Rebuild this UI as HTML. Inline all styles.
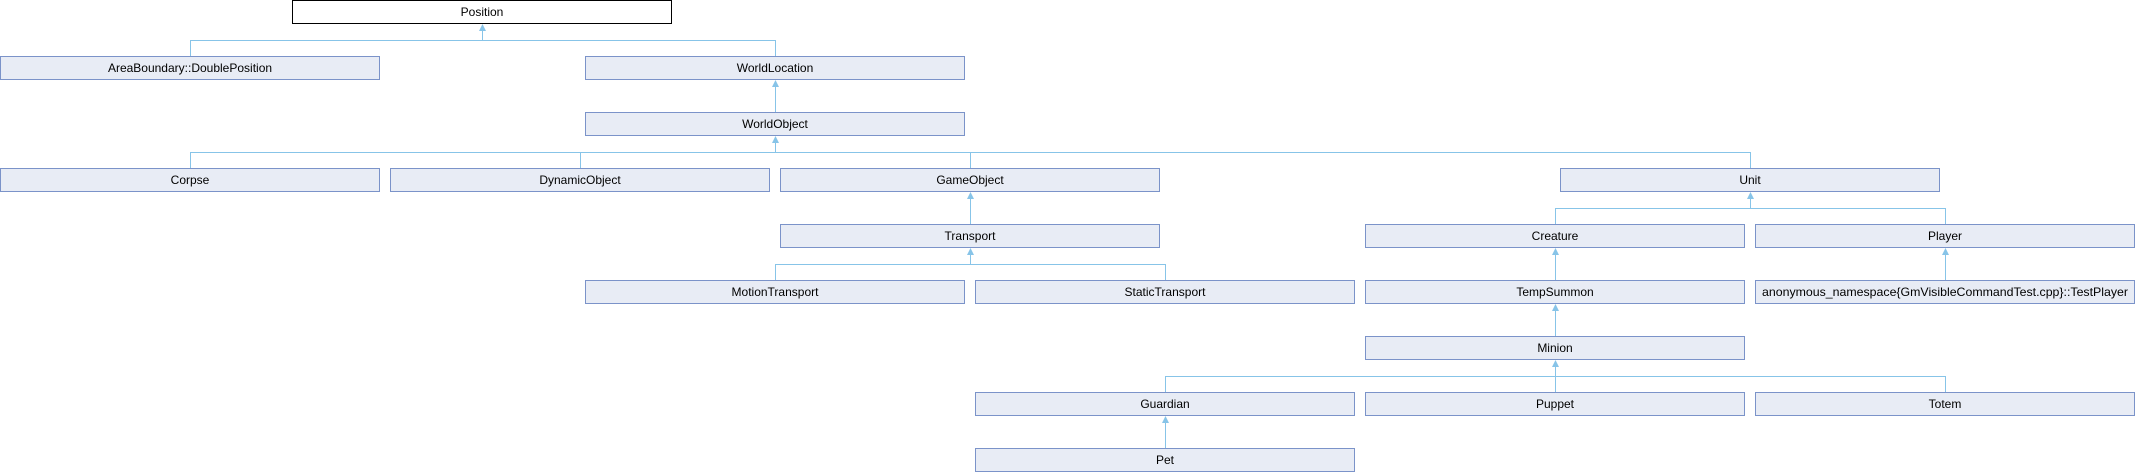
<!DOCTYPE html>
<html><head><meta charset="utf-8"><style>
html,body{margin:0;padding:0;background:#fff;}
svg{display:block;}
text{font-family:"Liberation Sans",Arial,sans-serif;font-size:12px;fill:#000;}
</style></head><body>
<svg width="2135" height="472" viewBox="0 0 2135 472" xmlns="http://www.w3.org/2000/svg">
<g stroke="#87c4e8" stroke-width="1" fill="none">
<path d="M190.5,56 V40.5 H775.5 V56"/>
<path d="M482.5,40 V27"/>
<path d="M775.5,112 V83"/>
<path d="M190.5,168 V152.5 H1750.5 V168 M580.5,152 V168 M970.5,152 V168"/>
<path d="M775.5,152 V139"/>
<path d="M970.5,224 V195"/>
<path d="M775.5,280 V264.5 H1165.5 V280"/>
<path d="M970.5,264 V251"/>
<path d="M1555.5,224 V208.5 H1945.5 V224"/>
<path d="M1750.5,208 V195"/>
<path d="M1555.5,280 V251 M1555.5,336 V307"/>
<path d="M1945.5,280 V251"/>
<path d="M1165.5,392 V376.5 H1945.5 V392 M1555.5,376 V392"/>
<path d="M1555.5,376 V363"/>
<path d="M1165.5,448 V419"/>
</g>
<g fill="#87c4e8">
<polygon points="482.5,24 479,31 486,31"/>
<polygon points="775.5,80 772,87 779,87"/>
<polygon points="775.5,136 772,143 779,143"/>
<polygon points="970.5,192 967,199 974,199"/>
<polygon points="970.5,248 967,255 974,255"/>
<polygon points="1750.5,192 1747,199 1754,199"/>
<polygon points="1555.5,248 1552,255 1559,255"/>
<polygon points="1945.5,248 1942,255 1949,255"/>
<polygon points="1555.5,304 1552,311 1559,311"/>
<polygon points="1555.5,360 1552,367 1559,367"/>
<polygon points="1165.5,416 1162,423 1169,423"/>
</g>
<rect x="292.5" y="0.5" width="379" height="23" fill="#fff" stroke="#000"/>
<g fill="#e8ecf5" stroke="#7b93c9">
<rect x="0.5" y="56.5" width="379" height="23"/>
<rect x="585.5" y="56.5" width="379" height="23"/>
<rect x="585.5" y="112.5" width="379" height="23"/>
<rect x="0.5" y="168.5" width="379" height="23"/>
<rect x="390.5" y="168.5" width="379" height="23"/>
<rect x="780.5" y="168.5" width="379" height="23"/>
<rect x="1560.5" y="168.5" width="379" height="23"/>
<rect x="780.5" y="224.5" width="379" height="23"/>
<rect x="1365.5" y="224.5" width="379" height="23"/>
<rect x="1755.5" y="224.5" width="379" height="23"/>
<rect x="585.5" y="280.5" width="379" height="23"/>
<rect x="975.5" y="280.5" width="379" height="23"/>
<rect x="1365.5" y="280.5" width="379" height="23"/>
<rect x="1755.5" y="280.5" width="379" height="23"/>
<rect x="1365.5" y="336.5" width="379" height="23"/>
<rect x="975.5" y="392.5" width="379" height="23"/>
<rect x="1365.5" y="392.5" width="379" height="23"/>
<rect x="1755.5" y="392.5" width="379" height="23"/>
<rect x="975.5" y="448.5" width="379" height="23"/>
</g>
<g text-anchor="middle">
<text x="482" y="16">Position</text>
<text x="190" y="72">AreaBoundary::DoublePosition</text>
<text x="775" y="72">WorldLocation</text>
<text x="775" y="128">WorldObject</text>
<text x="190" y="184">Corpse</text>
<text x="580" y="184">DynamicObject</text>
<text x="970" y="184">GameObject</text>
<text x="1750" y="184">Unit</text>
<text x="970" y="240">Transport</text>
<text x="1555" y="240">Creature</text>
<text x="1945" y="240">Player</text>
<text x="775" y="296">MotionTransport</text>
<text x="1165" y="296">StaticTransport</text>
<text x="1555" y="296">TempSummon</text>
<text x="1945" y="296" textLength="366" lengthAdjust="spacingAndGlyphs">anonymous_namespace{GmVisibleCommandTest.cpp}::TestPlayer</text>
<text x="1555" y="352">Minion</text>
<text x="1165" y="408">Guardian</text>
<text x="1555" y="408">Puppet</text>
<text x="1945" y="408">Totem</text>
<text x="1165" y="464">Pet</text>
</g>
</svg>
</body></html>
